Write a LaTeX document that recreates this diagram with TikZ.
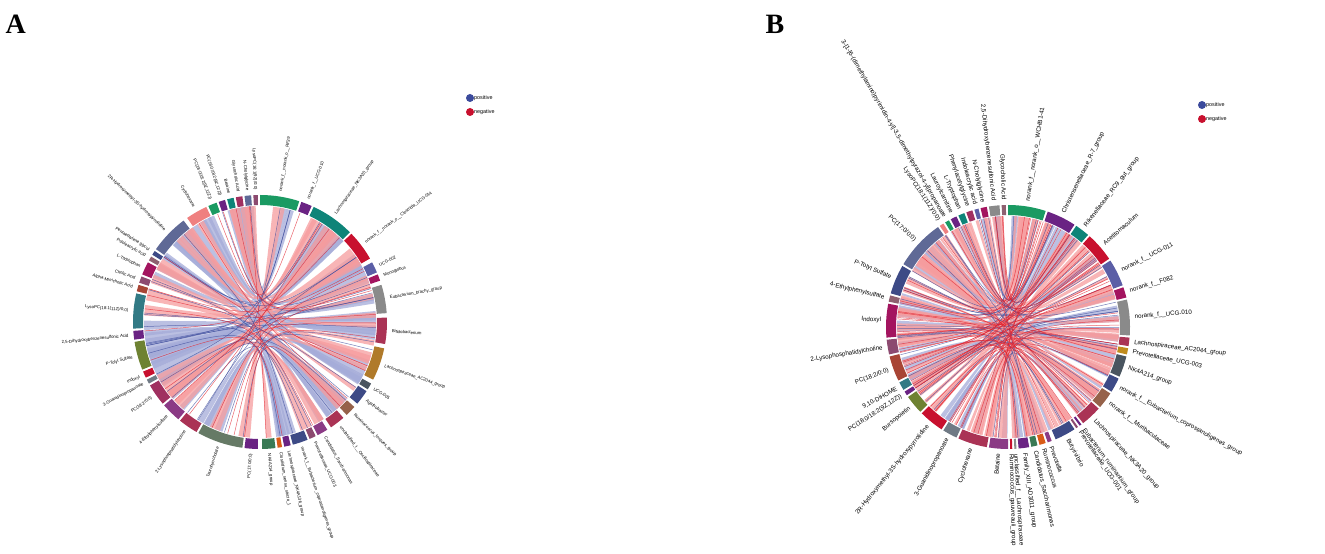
\documentclass[tikz,border=0pt]{standalone}
\usepackage{fontspec}
\setmainfont{Liberation Serif}
\setsansfont{Liberation Sans}
\usepackage{tikz}
\usetikzlibrary{positioning}

% colours of the ring
\definecolor{cgreen}{HTML}{1A9A62}
\definecolor{cpurple}{HTML}{6A2383}
\definecolor{cpurple2}{HTML}{8B3A85}
\definecolor{cteal}{HTML}{0E8478}
\definecolor{cteal2}{HTML}{327A85}
\definecolor{cred}{HTML}{C8102E}
\definecolor{cslate}{HTML}{5B5EA6}
\definecolor{cslate2}{HTML}{5F6996}
\definecolor{cmag}{HTML}{A3145F}
\definecolor{cgray}{HTML}{8A8A8A}
\definecolor{cgray2}{HTML}{707A85}
\definecolor{ccrim}{HTML}{AA3355}
\definecolor{ccrim2}{HTML}{A03060}
\definecolor{cbrown}{HTML}{B07A2A}
\definecolor{cbrn2}{HTML}{96624A}
\definecolor{cbrn3}{HTML}{A84535}
\definecolor{cdgray}{HTML}{4A5560}
\definecolor{cnavy}{HTML}{3D4A86}
\definecolor{cmauve}{HTML}{8C4A70}
\definecolor{cmauve2}{HTML}{8E6070}
\definecolor{corange}{HTML}{D95B17}
\definecolor{cgreen2}{HTML}{3A7A55}
\definecolor{csage}{HTML}{667A66}
\definecolor{colive}{HTML}{6E8232}
\definecolor{csalmon}{HTML}{EF8080}
\definecolor{cgold}{HTML}{C08C1E}
% colours of the chords
\definecolor{posfill}{HTML}{A4ABD8}
\definecolor{negfill}{HTML}{F69C9E}
\definecolor{posdark}{HTML}{3B4A9C}
\definecolor{negdark}{HTML}{E0202C}

% ribbon between two angles
\newcommand\ribbon[4]{%
  \fill[#4] (#1:\rr pt) arc[start angle=#1,end angle=#1+#3,radius=\rr pt]
    .. controls (0,0) .. (#2:\rr pt) arc[start angle=#2,end angle=#2+#3,radius=\rr pt]
    .. controls (0,0) .. (#1:\rr pt);}
% thin chord line
\newcommand\chordline[3]{%
  \draw[#3] (#1:\rr pt) .. controls (0,0) .. (#2:\rr pt);}

\begin{document}
\begin{tikzpicture}[
    x=1pt, y=1pt,
    % 图中标签
    panel letter/.style={font=\fontsize{28}{28}\selectfont\bfseries, anchor=west},
    small label/.style={font=\sffamily\fontsize{4.3}{5}\selectfont, inner sep=0pt},
    big label/.style={font=\sffamily\fontsize{6.2}{7}\selectfont, inner sep=0pt},
    legend text/.style={font=\sffamily\fontsize{5.4}{6}\selectfont, anchor=west, inner sep=0pt},
    % 弦样式
    pos ribbon/.style={fill=posfill, fill opacity=0.75},
    neg ribbon/.style={fill=negfill, fill opacity=0.75},
    pos line/.style={draw=posdark, line width=0.5pt, draw opacity=0.7},
    neg line/.style={draw=negdark, line width=0.5pt, draw opacity=0.7}
]
\useasboundingbox (0,0) rectangle (1325,554);

\node[panel letter] (letA) at (2,530) {A};
\node[panel letter] (letB) at (762,530) {B};

% legend A
\fill[posdark] (470,456) circle (4) coordinate (posA);
\node[legend text, right=4pt of posA] (posAtext) {positive};
\fill[cred] (470,442) circle (4) coordinate (negA);
\node[legend text, right=4pt of negA] (negAtext) {negative};
% legend B
\fill[posdark] (1202,449) circle (4) coordinate (posB);
\node[legend text, right=4pt of posB] (posBtext) {positive};
\fill[cred] (1202,435) circle (4) coordinate (negB);
\node[legend text, right=4pt of negB] (negBtext) {negative};

% ---------------- panel A ----------------
\begin{scope}[shift={(260,232)}]
\def\rr{116}
\pgfmathsetseed{11}
\foreach \i in {1,...,40}{
  \pgfmathsetmacro\ca{92+170*rnd}
  \pgfmathsetmacro\cb{-88+170*rnd}
  \pgfmathsetmacro\cw{2+4*rnd}
  \ribbon{\ca}{\cb}{\cw}{pos ribbon}
}
\foreach \i in {1,...,26}{
  \pgfmathsetmacro\ca{92+170*rnd}
  \pgfmathsetmacro\cb{-88+170*rnd}
  \pgfmathsetmacro\cw{2+4*rnd}
  \ribbon{\ca}{\cb}{\cw}{neg ribbon}
}
\foreach \i in {1,...,25}{
  \pgfmathsetmacro\ca{92+175*rnd}
  \pgfmathsetmacro\cb{-88+176*rnd}
  \chordline{\ca}{\cb}{pos line}
}
\foreach \i in {1,...,18}{
  \pgfmathsetmacro\ca{92+175*rnd}
  \pgfmathsetmacro\cb{-88+176*rnd}
  \chordline{\ca}{\cb}{neg line}
}
% ring and labels
\foreach \s/\e/\c/\t in {
  72/90/cgreen/norank\_f\_\_norank\_o\_\_RF39,
  66/71/cpurple/norank\_f\_\_UCG-010,
  45/65/cteal/Lachnospiraceae\_NK3A20\_group,
  30/44/cred/norank\_f\_\_norank\_o\_\_Clostridia\_UCG-014,
  23/28/cslate/UCG-002,
  19/22/cmag/Monoglobus,
  4/17/cgray/Eubacterium\_brachy\_group,
  -10/2/ccrim/Bifidobacterium,
  -27/-12/cbrown/Lachnospiraceae\_AC2044\_group,
  -32/-29/cdgray/UCG-005,
  -40/-33/cnavy/Agathobacter,
  -47/-42/cbrn2/Ruminococcus\_torques\_group,
  -56/-49/ccrim/unclassified\_f\_\_Oscillospiraceae,
  -63/-58/cpurple2/Candidatus\_Saccharimonas,
  -67/-64/cmauve/Prevotellaceae\_UCG-003,
  -75/-68/cnavy/norank\_f\_\_Eubacterium\_coprostanoligenes\_group,
  -79/-76/cpurple/Lachnospiraceae\_NK4A136\_group,
  -82/-80/corange/Clostridium\_sensu\_stricto\_1,
  -89/-83/cgreen2/NK4A214\_group,
  263/269/cpurple/{PC(17:0/0:0)},
  241/262/csage/Taurohyocholate,
  231/240/ccrim/2-Lysophosphatidylcholine,
  221/230/cpurple2/4-Ethylphenylsulfate,
  210/220/ccrim2/{PC(18:2/0:0)},
  207/209/cgray2/3-Guanidinopropanoate,
  203/206/cred/Indoxyl,
  189/202/colive/P-Tolyl Sulfate,
  184/188/cpurple/{2,5-Dihydroxybenzenesulfonic Acid},
  167/183/cteal2/{LysoPC(18:1(11Z)/0:0)},
  163/166/cbrn3/Alpha-Muricholic Acid,
  159/162/cmauve/Cholic Acid,
  152/158/cmag/L-Tryptophan,
  149/151/cmauve2/Indoleacrylic acid,
  146/148/cnavy/Pentaethylene glycol,
  127/145/cslate2/2R-Hydroxymethyl-3S-hydroxypyrrolidine,
  115/125/csalmon/Cyclohexane,
  110/114/cgreen/{PC(18:0/18:2(9Z,12Z))},
  106/109/cpurple/{PC(16:0/18:2(9Z,12Z))},
  102/105/cteal/Betaine,
  98/101/ccrim2/Glycocholic Acid,
  94/97/cslate2/N-Cholylglycine,
  91/93/cmauve/{LysoPC(16:1(9Z)/0:0)}}{
  \fill[\c] (\s:117pt) arc[start angle=\s,end angle=\e,radius=117pt]
    -- (\e:127pt) arc[start angle=\e,end angle=\s,radius=127pt] -- cycle;
  \pgfmathsetmacro\m{(\s+\e)/2}
  \ifdim\m pt<90pt
    \node[small label, anchor=west, rotate=\m] at (\m:132pt) {\t};
  \else
    \node[small label, anchor=east, rotate=\m-180] at (\m:132pt) {\t};
  \fi
}
\end{scope}

% ---------------- panel B ----------------
\begin{scope}[shift={(1008,227)}]
\def\rr{111}
\pgfmathsetseed{23}
\foreach \i in {1,...,45}{
  \pgfmathsetmacro\ca{92+176*rnd}
  \pgfmathsetmacro\cb{-88+176*rnd}
  \pgfmathsetmacro\cw{1+2.5*rnd}
  \ribbon{\ca}{\cb}{\cw}{pos ribbon}
}
\foreach \i in {1,...,75}{
  \pgfmathsetmacro\ca{92+176*rnd}
  \pgfmathsetmacro\cb{-88+176*rnd}
  \pgfmathsetmacro\cw{1+2.5*rnd}
  \ribbon{\ca}{\cb}{\cw}{neg ribbon}
}
\foreach \i in {1,...,30}{
  \pgfmathsetmacro\ca{92+176*rnd}
  \pgfmathsetmacro\cb{-88+176*rnd}
  \chordline{\ca}{\cb}{pos line}
}
\foreach \i in {1,...,55}{
  \pgfmathsetmacro\ca{92+176*rnd}
  \pgfmathsetmacro\cb{-88+176*rnd}
  \chordline{\ca}{\cb}{neg line}
}
% ring and labels
\foreach \s/\e/\c/\t in {
  72/90/cgreen/norank\_f\_\_norank\_o\_\_WCHB1-41,
  57/71/cpurple/Christensenellaceae\_R-7\_group,
  49/56/cteal/Rikenellaceae\_RC9\_gut\_group,
  34/48/cred/Acetitomaculum,
  20/33/cslate/norank\_f\_\_UCG-011,
  14/19/cmag/norank\_f\_\_F082,
  -4/13/cgray/norank\_f\_\_UCG-010,
  -9/-5/ccrim/Lachnospiraceae\_AC2044\_group,
  -13/-10/cgold/Prevotellaceae\_UCG-003,
  -24/-14/cdgray/NK4A214\_group,
  -32/-25/cnavy/norank\_f\_\_Eubacterium\_coprostanoligenes\_group,
  -41/-33/cbrn2/norank\_f\_\_Muribaculaceae,
  -52/-42/ccrim/Lachnospiraceae\_NK3A20\_group,
  -54/-53/cpurple/Eubacterium\_ruminantium\_group,
  -56/-55/cmauve/Prevotellaceae\_UCG-001,
  -67/-57/cnavy/Butyrivibrio,
  -71/-69/cpurple2/Prevotella,
  -75/-72/corange/Ruminococcus,
  -79/-76/cgreen2/Candidatus\_Saccharimonas,
  -85/-80/cpurple/Family\_XIII\_AD3011\_group,
  -87/-86/cgray/unclassified\_f\_\_Lachnospiraceae,
  -89/-88/cred/Ruminococcus\_gauvreauii\_group,
  261/270/cpurple2/Betaine,
  246/260/ccrim/Cyclohexane,
  238/245/cgray2/3-Guanidinopropanoate,
  225/237/cred/2R-Hydroxymethyl-3S-hydroxypyrrolidine,
  215/224/colive/Bursopoietin,
  212/214/cpurple/{PC(18:0/18:2(9Z,12Z))},
  207/211/cteal2/{9,10-DiHOME},
  194/206/cbrn3/{PC(18:2/0:0)},
  186/193/cmauve/2-Lysophosphatidylcholine,
  169/185/cmag/Indoxyl,
  165/168/cmauve2/4-Ethylphenylsulfate,
  150/164/cnavy/P-Tolyl Sulfate,
  125/149/cslate2/{PC(17:0/0:0)},
  122/124/csalmon/{LysoPC(18:1(11Z)/0:0)},
  119/121/cgreen/{3-[1-[6-(dimethylamino)pyrimidin-4-yl]-3,5-dimethylpyrazol-4-yl]propanoate},
  115/118/cpurple/Lauroylcarnitine,
  111/114/cteal/L-Tryptophan,
  107/110/ccrim2/Phenylacetylglycine,
  104/106/cslate/Indoleacrylic acid,
  100/103/cmag/N-Cholylglycine,
  94/99/cgray/{2,5-Dihydroxybenzenesulfonic Acid},
  91/93/cmauve2/Glycocholic Acid}{
  \fill[\c] (\s:112pt) arc[start angle=\s,end angle=\e,radius=112pt]
    -- (\e:122pt) arc[start angle=\e,end angle=\s,radius=122pt] -- cycle;
  \pgfmathsetmacro\m{(\s+\e)/2}
  \ifdim\m pt<90pt
    \node[big label, anchor=west, rotate=\m] at (\m:127pt) {\t};
  \else
    \node[big label, anchor=east, rotate=\m-180] at (\m:127pt) {\t};
  \fi
}
\end{scope}
\end{tikzpicture}
\end{document}
